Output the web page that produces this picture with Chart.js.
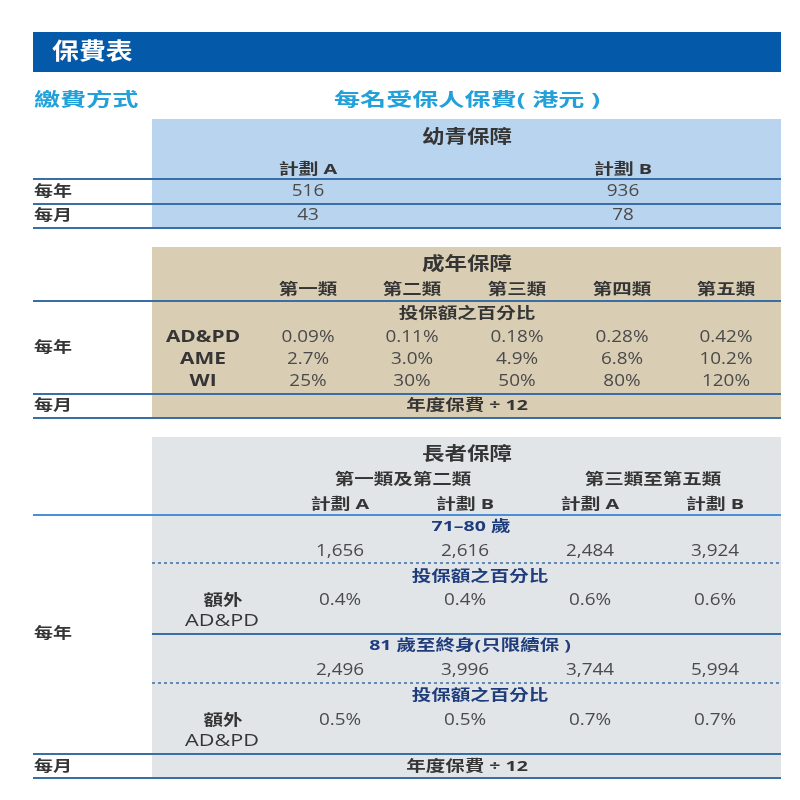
<!DOCTYPE html>
<html>
<head>
<meta charset="utf-8">
<script src="https://cdn.jsdelivr.net/npm/chart.js@4"></script>
<style>
  html, body { margin: 0; padding: 0; background: #fff; }
  #wrap { width: 800px; height: 800px; }
</style>
</head>
<body>
<div id="wrap"><canvas id="premiumTable" width="800" height="800"></canvas></div>
<script>
    // 幼青保障
    const youthPlans = ['計劃 A', '計劃 B'];
    const youthAnnual = [516, 936];
    const youthMonthly = [43, 78];

    // 成年保障 (投保額之百分比)
    const adultClasses = ['第一類', '第二類', '第三類', '第四類', '第五類'];
    const adultRows = ['AD&PD', 'AME', 'WI'];
    const adultADPD = [0.09, 0.11, 0.18, 0.28, 0.42];
    const adultAME = [2.7, 3.0, 4.9, 6.8, 10.2];
    const adultWI = [25, 30, 50, 80, 120];

    // 長者保障
    const seniorGroups = ['第一類及第二類', '第三類至第五類'];
    const seniorPlans = ['計劃 A', '計劃 B', '計劃 A', '計劃 B'];
    const senior7180 = [1656, 2616, 2484, 3924];
    const seniorExtra7180 = [0.4, 0.4, 0.6, 0.6];
    const senior81 = [2496, 3996, 3744, 5994];
    const seniorExtra81 = [0.5, 0.5, 0.7, 0.7];

    // 版面 (以 800 x 800 的座標為單位)
    const LEFT = 33, BOX_L = 152, RIGHT = 781, MID = 467;
    const youthCols = [308, 623];
    const adultCols = [308, 412, 517, 622, 726];
    const seniorCols = [340, 465, 590, 715];
    const seniorGroupCols = [403, 653];

    const FONT = '"Open Sans", "Noto Sans CJK TC", sans-serif';
    const C = {
        bar: '#0459a9', cyan: '#22a0da', dark: '#353535', val: '#4a4a4a',
        navy: '#1f3d7d', rule: '#3a6ea6', ruleLight: '#4b8fd6',
        youth: '#b9d4ee', adult: '#d9cdb4', senior: '#e1e5e7'
    };
    // 原圖的字型較寬,用水平拉伸來對齊
    const S_HEAD = 1.45, S_CJK = 1.3, S_VAL = 1.22, S_LAT = 1.35;

    const pct = (v, d) => v.toFixed(d) + '%';
    const num = v => v.toLocaleString('en-US');

    const tablePlugin = {
        id: 'tablePlugin',
        beforeDraw(chart) {
            const ctx = chart.ctx;
            const sx = chart.scales.x, sy = chart.scales.y;
            const X = v => sx.getPixelForValue(v);
            const Y = v => sy.getPixelForValue(v);

            function rect(x0, y0, x1, y1, color) {
                ctx.fillStyle = color;
                ctx.fillRect(X(x0), Y(y0), X(x1) - X(x0), Y(y1) - Y(y0));
            }
            function text(s, x, y, size, weight, color, align, stretch) {
                ctx.save();
                ctx.translate(X(x), Y(y));
                ctx.scale(stretch || 1, 1);
                ctx.font = weight + ' ' + size + 'px ' + FONT;
                ctx.fillStyle = color;
                ctx.textAlign = align || 'center';
                ctx.textBaseline = 'middle';
                ctx.fillText(s, 0, 0);
                ctx.restore();
            }
            const head = (s, x, y, color) => text(s, x, y, 15, 'bold', color || C.dark, 'center', S_CJK);
            const val = (s, x, y) => text(s, x, y, 15.5, 'normal', C.val, 'center', S_VAL);
            const rowLabel = (s, y) => text(s, 34, y, 15, 'bold', C.dark, 'left', 1.27);
            function rule(x0, x1, y, color, width, dash) {
                ctx.save();
                ctx.strokeStyle = color;
                ctx.lineWidth = width;
                ctx.setLineDash(dash || []);
                ctx.beginPath();
                ctx.moveTo(X(x0), Y(y));
                ctx.lineTo(X(x1), Y(y));
                ctx.stroke();
                ctx.restore();
            }

            ctx.save();
            ctx.fillStyle = '#ffffff';
            ctx.fillRect(0, 0, chart.width, chart.height);

            // 標題
            rect(LEFT, 32, RIGHT, 72, C.bar);
            text('保費表', 52, 52, 23, 'bold', '#ffffff', 'left', 1.17);
            text('繳費方式', 34, 101, 18, 'bold', C.cyan, 'left', S_HEAD);
            text('每名受保人保費( 港元 )', MID, 101, 18, 'bold', C.cyan, 'center', S_HEAD);

            // 幼青保障
            rect(BOX_L, 119, RIGHT, 228, C.youth);
            text('幼青保障', MID, 138, 18, 'bold', C.dark, 'center', 1.25);
            youthPlans.forEach((p, i) => text(p, youthCols[i], 170, 14.5, 'bold', C.dark, 'center', 1.37));
            youthAnnual.forEach((v, i) => val(num(v), youthCols[i], 192));
            youthMonthly.forEach((v, i) => val(num(v), youthCols[i], 216));
            rowLabel('每年', 192);
            rowLabel('每月', 216);
            rule(LEFT, RIGHT, 179, C.rule, 2);
            rule(LEFT, RIGHT, 204, C.rule, 2);
            rule(LEFT, RIGHT, 228, C.rule, 2);

            // 成年保障
            rect(BOX_L, 247, RIGHT, 418, C.adult);
            text('成年保障', MID, 265, 18, 'bold', C.dark, 'center', 1.25);
            adultClasses.forEach((c, i) => head(c, adultCols[i], 290));
            head('投保額之百分比', MID, 314);
            const adultY = [338, 360, 382];
            adultRows.forEach((r, j) => text(r, 203, adultY[j], 15.5, 'bold', C.dark, 'center', S_LAT));
            adultADPD.forEach((v, i) => val(pct(v, 2), adultCols[i], adultY[0]));
            adultAME.forEach((v, i) => val(pct(v, 1), adultCols[i], adultY[1]));
            adultWI.forEach((v, i) => val(pct(v, 0), adultCols[i], adultY[2]));
            rowLabel('每年', 348);
            rowLabel('每月', 406);
            head('年度保費 ÷ 12', MID, 406);
            rule(LEFT, RIGHT, 301, C.rule, 2);
            rule(LEFT, RIGHT, 394, C.rule, 2);
            rule(LEFT, RIGHT, 418, C.rule, 2);

            // 長者保障
            rect(BOX_L, 437, RIGHT, 778, C.senior);
            text('長者保障', MID, 455, 18, 'bold', C.dark, 'center', 1.25);
            seniorGroups.forEach((g, i) => head(g, seniorGroupCols[i], 480));
            seniorPlans.forEach((p, i) => text(p, seniorCols[i], 505, 14.5, 'bold', C.dark, 'center', 1.37));
            rule(LEFT, RIGHT, 515, C.ruleLight, 2);

            head('71–80 歲', 471, 527, C.navy);
            senior7180.forEach((v, i) => val(num(v), seniorCols[i], 552));
            rule(BOX_L, RIGHT, 563, C.rule, 1.5, [3, 3]);
            head('投保額之百分比', 480, 577, C.navy);
            head('額外', 223, 601);
            text('AD&PD', 222, 622, 15.5, 'normal', C.dark, 'center', 1.4);
            seniorExtra7180.forEach((v, i) => val(pct(v, 1), seniorCols[i], 601));
            rule(BOX_L, RIGHT, 634, C.rule, 2);

            head('81 歲至終身(只限續保 )', 470, 646, C.navy);
            senior81.forEach((v, i) => val(num(v), seniorCols[i], 671));
            rule(BOX_L, RIGHT, 683, C.rule, 1.5, [3, 3]);
            head('投保額之百分比', 480, 696, C.navy);
            head('額外', 223, 721);
            text('AD&PD', 222, 742, 15.5, 'normal', C.dark, 'center', 1.4);
            seniorExtra81.forEach((v, i) => val(pct(v, 1), seniorCols[i], 721));
            rule(LEFT, RIGHT, 754, C.rule, 2);

            rowLabel('每年', 634);
            rowLabel('每月', 767);
            head('年度保費 ÷ 12', MID, 767);
            rule(LEFT, RIGHT, 778, C.rule, 2);

            ctx.restore();
        }
    };

    const ctx = document.getElementById('premiumTable').getContext('2d');
    new Chart(ctx, {
        type: 'scatter',
        data: { datasets: [{ data: [] }] },
        options: {
            responsive: false,
            animation: false,
            events: [],
            layout: { padding: 0 },
            plugins: { legend: { display: false }, tooltip: { enabled: false } },
            scales: {
                x: { type: 'linear', min: 0, max: 800, display: false },
                y: { type: 'linear', min: 0, max: 800, reverse: true, display: false }
            }
        },
        plugins: [tablePlugin]
    });
</script>
</body>
</html>
